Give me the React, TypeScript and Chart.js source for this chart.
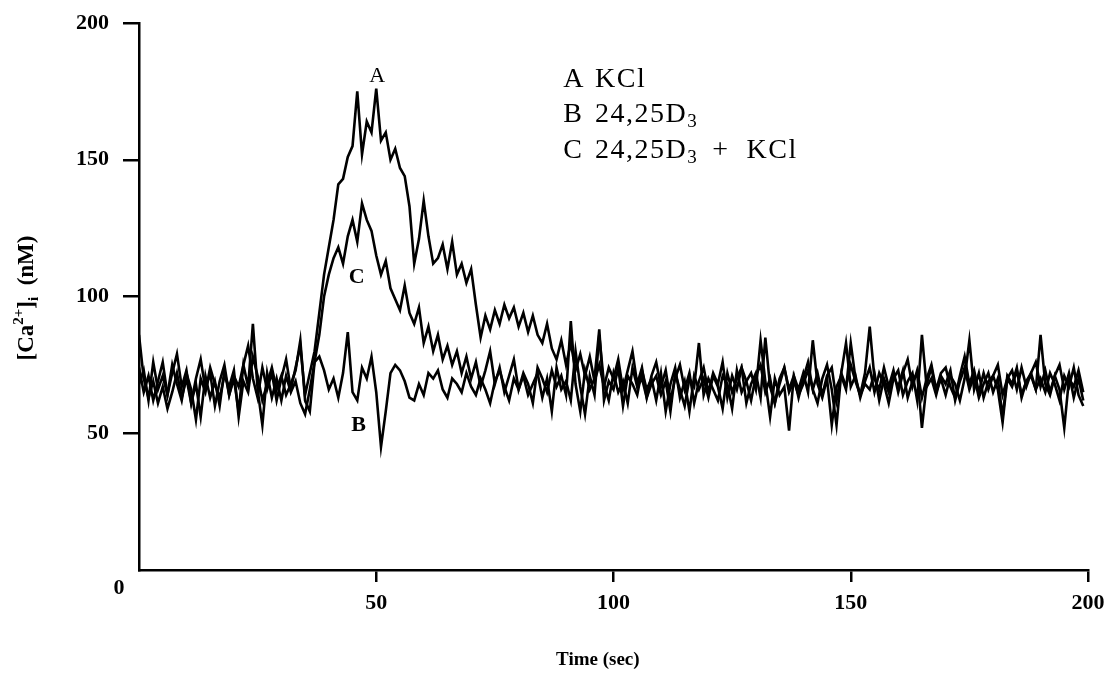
import React, { useEffect, useRef } from 'react';
import { Chart, registerables } from 'chart.js';

Chart.register(...registerables);

// Time base (seconds), one sample per second
const TIME_SEC: number[] = Array.from({ length: 200 }, (_, i) => i);

// Trace A: KCl
const KCL_A: number[] = [
  74, 65, 71, 62, 69, 76, 64, 72, 79, 67,
  73, 61, 70, 77, 66, 72, 60, 69, 75, 64,
  71, 67, 75, 82, 70, 63, 74, 66, 72, 62,
  70, 77, 66, 74, 82, 64, 72, 80, 94, 108,
  118, 128, 141, 143, 151, 155, 175, 152, 164, 160,
  176, 157, 160, 150, 154, 147, 144, 133, 112, 121,
  135, 122, 112, 114, 119, 110, 120, 108, 112, 105,
  110, 97, 85, 93, 88, 95, 90, 97, 92, 96,
  89, 94, 87, 93, 86, 83, 90, 81, 77, 84,
  75, 83, 73, 79, 71, 78, 69, 75, 67, 74,
  70, 77, 66, 73, 80, 68, 74, 63, 71, 76,
  67, 73, 62, 70, 75, 66, 72, 61, 69, 74,
  65, 72, 68, 76, 63, 71, 66, 74, 69, 62,
  71, 75, 65, 70, 61, 68, 74, 66, 71, 63,
  70, 76, 66, 72, 64, 71, 74, 62, 72, 67,
  75, 69, 64, 72, 89, 70, 66, 74, 67, 73,
  65, 72, 77, 67, 73, 63, 70, 75, 66, 72,
  74, 67, 63, 71, 78, 68, 73, 65, 72, 66,
  71, 75, 64, 70, 73, 66, 74, 67, 72, 76,
  67, 73, 65, 71, 75, 66, 72, 63, 70, 62,
];

// Trace B: 24,25D3
const D3_B: number[] = [
  86, 70, 63, 69, 61, 67, 59, 65, 72, 63,
  70, 61, 68, 56, 71, 63, 69, 60, 73, 64,
  70, 58, 75, 67, 90, 66, 53, 72, 63, 70,
  62, 71, 65, 69, 61, 57, 66, 76, 78, 73,
  66, 70, 63, 72, 87, 65, 62, 74, 70, 78,
  65, 45, 58, 72, 75, 73, 69, 63, 62, 68,
  64, 72, 70, 73, 66, 63, 70, 68, 65, 72,
  67, 64, 70, 66, 61, 69, 73, 67, 62, 70,
  66, 71, 64, 68, 72, 63, 70, 58, 74, 66,
  69, 62, 80, 67, 57, 71, 64, 86, 68, 62,
  72, 65, 69, 61, 74, 67, 70, 63, 68, 71,
  64, 69, 58, 72, 66, 60, 70, 67, 83, 64,
  70, 66, 62, 71, 68, 59, 73, 65, 69, 72,
  66, 84, 69, 56, 70, 64, 67, 51, 71, 66,
  72, 65, 84, 68, 63, 70, 53, 67, 71, 66,
  83, 70, 64, 68, 66, 72, 62, 70, 65, 71,
  67, 73, 63, 69, 72, 52, 68, 74, 65, 70,
  64, 71, 68, 62, 70, 84, 66, 72, 63, 69,
  71, 66, 54, 70, 67, 73, 64, 69, 71, 66,
  86, 68, 64, 71, 66, 52, 70, 67, 73, 65,
];

// Trace C: 24,25D3 + KCl
const D3_KCL_C: number[] = [
  68, 73, 62, 76, 66, 71, 64, 75, 68, 62,
  72, 66, 55, 70, 65, 74, 68, 63, 71, 67,
  73, 56, 69, 65, 78, 71, 62, 68, 74, 66,
  71, 64, 68, 73, 84, 62, 58, 76, 86, 100,
  108, 114, 118, 112, 122, 128, 120, 134, 128, 124,
  115, 108, 113, 103, 99, 95, 104, 94, 90, 96,
  83, 89, 80, 86, 77, 82, 75, 80, 72, 78,
  70, 76, 67, 73, 80, 68, 74, 65, 71, 77,
  66, 72, 68, 61, 74, 70, 65, 73, 67, 71,
  64, 91, 68, 58, 73, 66, 70, 88, 62, 69,
  66, 74, 60, 71, 68, 64, 73, 66, 70, 62,
  72, 58, 68, 74, 63, 69, 58, 71, 66, 70,
  63, 71, 67, 59, 72, 65, 70, 74, 61, 68,
  72, 63, 85, 67, 61, 70, 74, 65, 69, 64,
  68, 73, 66, 61, 70, 75, 66, 53, 72, 83,
  67, 71, 63, 69, 74, 65, 72, 68, 61, 70,
  73, 64, 69, 72, 62, 86, 67, 70, 64, 71,
  68, 73, 62, 69, 74, 66, 71, 63, 68, 72,
  65, 70, 56, 71, 68, 74, 63, 69, 72, 66,
  70, 65, 72, 68, 62, 71, 67, 74, 64, 60,
];

const X_MIN = 0;
const X_MAX = 200;
const Y_MIN = 0;
const Y_MAX = 200;
const TICK_STEP = 50;

const SERIF = '"Liberation Serif", "DejaVu Serif", serif';

// Legend lines: letter, main text, subscript, trailing text
const LEGEND_LINES: [string, string, string, string][] = [
  ['A', 'KCl', '', ''],
  ['B', '24,25D', '3', ''],
  ['C', '24,25D', '3', '+ KCl'],
];

const toPts = (vals: number[]) => TIME_SEC.map((t, i) => ({ x: t, y: vals[i] }));

const textPlugin = {
  id: 'figureText',
  afterDraw(chart: any) {
    const { ctx, scales } = chart;
    const x = scales.x;
    const y = scales.y;
    ctx.save();
    ctx.fillStyle = '#000';
    ctx.textBaseline = 'alphabetic';

    // Curve labels
    ctx.textAlign = 'center';
    ctx.font = `normal 22px ${SERIF}`;
    ctx.fillText('A', x.getPixelForValue(50.2), y.getPixelForValue(178.5));
    ctx.font = `bold 22px ${SERIF}`;
    ctx.fillText('C', x.getPixelForValue(45.9), y.getPixelForValue(105));
    ctx.fillText('B', x.getPixelForValue(46.3), y.getPixelForValue(51));

    // Legend block
    ctx.textAlign = 'left';
    (ctx as any).letterSpacing = '1.5px';
    const letterX = x.getPixelForValue(89.4);
    const wordX = x.getPixelForValue(96.1);
    const baselines = [176.6, 163.7, 150.6];
    LEGEND_LINES.forEach((ln, i) => {
      const py = y.getPixelForValue(baselines[i]);
      ctx.font = `normal 28px ${SERIF}`;
      ctx.fillText(ln[0], letterX, py);
      ctx.fillText(ln[1], wordX, py);
      let px = wordX + ctx.measureText(ln[1]).width;
      if (ln[2]) {
        ctx.font = `normal 19px ${SERIF}`;
        ctx.fillText(ln[2], px, py + 5);
        px += ctx.measureText(ln[2]).width;
      }
      if (ln[3]) {
        ctx.font = `normal 28px ${SERIF}`;
        ctx.fillText(ln[3].replace(' ', '  '), px + 14, py);
      }
    });
    (ctx as any).letterSpacing = '0px';

    // Corner zero label
    ctx.font = `bold 22px ${SERIF}`;
    ctx.textAlign = 'center';
    ctx.textBaseline = 'middle';
    ctx.fillText('0', x.left - 20, y.bottom + 18);

    // X axis title
    ctx.font = `bold 19px ${SERIF}`;
    ctx.fillText('Time (sec)', x.getPixelForValue(96.7), 660);

    // Y axis title: [Ca2+]i (nM)
    const parts: { t: string; size: number; dy: number }[] = [
      { t: '[Ca', size: 23, dy: 0 },
      { t: '2+', size: 15, dy: -10 },
      { t: ']', size: 23, dy: 0 },
      { t: 'i', size: 15, dy: 5 },
      { t: '  (nM)', size: 23, dy: 0 },
    ];
    let total = 0;
    parts.forEach((p) => {
      ctx.font = `bold ${p.size}px ${SERIF}`;
      total += ctx.measureText(p.t).width;
    });
    ctx.translate(33, 298);
    ctx.rotate(-Math.PI / 2);
    ctx.textAlign = 'left';
    ctx.textBaseline = 'alphabetic';
    let cx = -total / 2;
    parts.forEach((p) => {
      ctx.font = `bold ${p.size}px ${SERIF}`;
      ctx.fillText(p.t, cx, p.dy);
      cx += ctx.measureText(p.t).width;
    });
    ctx.restore();
  },
};

const tickColor = (c: any) => (c.tick && c.tick.value === 0 ? 'rgba(0,0,0,0)' : '#000');

export default function App() {
  const canvasRef = useRef<HTMLCanvasElement | null>(null);

  useEffect(() => {
    if (!canvasRef.current) return;
    const line = (label: string, vals: number[]) => ({
      label,
      data: toPts(vals),
      borderColor: '#000',
      borderWidth: 2.6,
      pointRadius: 0,
      tension: 0,
      fill: false,
    });
    const chart = new Chart(canvasRef.current, {
      type: 'line',
      data: {
        datasets: [
          line('A KCl', KCL_A),
          line('B 24,25D3', D3_B),
          line('C 24,25D3 + KCl', D3_KCL_C),
        ],
      },
      options: {
        animation: false,
        responsive: false,
        layout: { padding: { top: 23, right: 21, left: 0, bottom: 0 } },
        plugins: {
          legend: { display: false },
          tooltip: { enabled: false },
        },
        scales: {
          x: {
            type: 'linear',
            min: X_MIN,
            max: X_MAX,
            afterFit: (s: any) => {
              s.height = 103;
              s.paddingLeft = 0;
              s.paddingRight = 0;
            },
            ticks: {
              stepSize: TICK_STEP,
              color: '#000',
              font: { family: SERIF, size: 22, weight: 'bold' },
              padding: 8,
              maxRotation: 0,
              callback: (v: any) => (v === 0 ? '' : String(v)),
            },
            grid: {
              drawOnChartArea: false,
              drawTicks: true,
              tickLength: 12,
              lineWidth: 2.5,
              color: tickColor,
            },
            border: { display: true, color: '#000', width: 2.5 },
            title: { display: false },
          },
          y: {
            type: 'linear',
            min: Y_MIN,
            max: Y_MAX,
            afterFit: (s: any) => {
              s.width = 139;
              s.paddingTop = 0;
              s.paddingBottom = 0;
            },
            ticks: {
              stepSize: TICK_STEP,
              color: '#000',
              font: { family: SERIF, size: 22, weight: 'bold' },
              padding: 14,
              callback: (v: any) => (v === 0 ? '' : String(v)),
            },
            grid: {
              drawOnChartArea: false,
              drawTicks: true,
              tickLength: 16,
              lineWidth: 2.5,
              color: tickColor,
            },
            border: { display: true, color: '#000', width: 2.5 },
          },
        },
      },
      plugins: [textPlugin],
    });
    return () => chart.destroy();
  }, []);

  return (
    <div style={{ position: 'fixed', left: 0, top: 0, width: 1109, height: 673, background: '#fff' }}>
      <canvas ref={canvasRef} width={1109} height={673} style={{ display: 'block' }} />
    </div>
  );
}
